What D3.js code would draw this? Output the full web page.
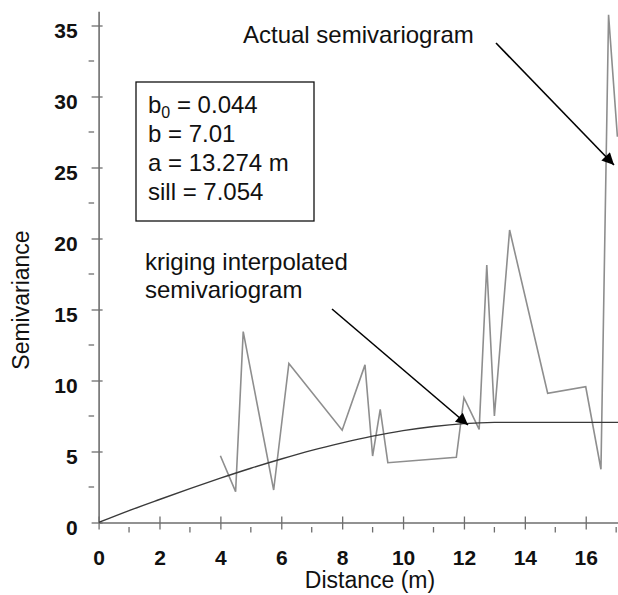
<!DOCTYPE html>
<html>
<head>
<meta charset="utf-8">
<script src="https://cdn.jsdelivr.net/npm/d3@7"></script>
<style>
  html, body { margin: 0; padding: 0; background: #fff; }
  svg { display: block; font-family: Arial, "Liberation Sans", sans-serif; }
</style>
</head>
<body>
<svg id="chart" width="618" height="595"></svg>
<script>
// actual semivariogram (distance m, semivariance)
const actualX = [4.0, 4.5, 4.75, 5.75, 6.25, 8.0, 8.75, 9.0, 9.25, 9.5, 11.75, 12.0, 12.5, 12.75, 13.0, 13.5, 14.75, 16.0, 16.5, 16.75, 17.04];
const actualY = [4.7, 2.17, 13.44, 2.29, 11.2, 6.5, 11.1, 4.68, 7.97, 4.21, 4.59, 8.79, 6.56, 18.13, 7.5, 20.6, 9.1, 9.56, 3.75, 35.75, 27.17];

// kriging interpolated semivariogram
const krigX = [0, 1, 2, 3, 4, 5, 6, 7, 8, 9, 10, 11, 12, 13, 13.274, 17.2];
const krigY = [0, 0.84, 1.62, 2.38, 3.12, 3.82, 4.47, 5.08, 5.61, 6.08, 6.47, 6.76, 6.96, 7.05, 7.054, 7.054];

const xTicks = [0, 2, 4, 6, 8, 10, 12, 14, 16];
const xMinor = [1, 3, 5, 7, 9, 11, 13, 15, 17];
const yTicks = [0, 5, 10, 15, 20, 25, 30, 35];
const yMinor = [2.5, 7.5, 12.5, 17.5, 22.5, 27.5, 32.5];

const params = [
  ["b", "0", " = 0.044"],
  ["b", "", " = 7.01"],
  ["a", "", " = 13.274 m"],
  ["sill", "", " = 7.054"],
];

const svg = d3.select("#chart");
const x = d3.scaleLinear().domain([0, 17.06]).range([98.6, 618]);
const y = d3.scaleLinear().domain([0, 36]).range([522.5, 11.3]);
const axisColor = "#6e6e6e";
const font = "Arial, 'Liberation Sans', sans-serif";

// y axis
const gy = svg.append("g").attr("transform", `translate(${x(0)},0)`)
  .call(d3.axisLeft(y).tickValues(yTicks).tickSize(7).tickSizeOuter(0).tickFormat(d3.format("d")));
gy.select(".domain").attr("stroke", axisColor).attr("stroke-width", 1.6);
gy.selectAll(".tick line").attr("stroke", axisColor).attr("stroke-width", 1.3).attr("x1", -7).attr("x2", 4);
gy.selectAll(".tick text").attr("x", -21).attr("dy", 11.5).attr("fill", "#111")
  .attr("font-size", 21).attr("font-weight", "bold").attr("font-family", font);
svg.append("g").selectAll("line").data(yMinor).join("line")
  .attr("x1", x(0) - 10).attr("x2", x(0) - 4.5).attr("y1", y).attr("y2", y)
  .attr("stroke", axisColor).attr("stroke-width", 1.3);

// x axis
const gx = svg.append("g").attr("transform", `translate(0,${y(0)})`)
  .call(d3.axisBottom(x).tickValues(xTicks).tickSize(6).tickSizeOuter(0).tickFormat(d3.format("d")));
gx.select(".domain").attr("stroke", axisColor).attr("stroke-width", 1.6);
gx.selectAll(".tick line").attr("stroke", axisColor).attr("stroke-width", 1.3).attr("y1", -6).attr("y2", 7);
gx.selectAll(".tick text").attr("y", 42.7).attr("dy", 0).attr("fill", "#111")
  .attr("font-size", 21).attr("font-weight", "bold").attr("font-family", font);
svg.append("g").selectAll("line").data(xMinor).join("line")
  .attr("x1", x).attr("x2", x).attr("y1", y(0) + 4.5).attr("y2", y(0) + 10)
  .attr("stroke", axisColor).attr("stroke-width", 1.3);

// axis titles
svg.append("text").attr("x", 370).attr("y", 588).attr("text-anchor", "middle")
  .attr("font-size", 23).attr("fill", "#111").text("Distance (m)");
svg.append("text").attr("transform", "translate(29,300) rotate(-90)").attr("text-anchor", "middle")
  .attr("font-size", 23).attr("fill", "#111").text("Semivariance");

// series
svg.append("defs").append("clipPath").attr("id", "plot").append("rect")
  .attr("x", 99).attr("y", 0).attr("width", 519).attr("height", 595);
const line = d3.line().x((d) => x(d[0])).y((d) => y(d[1]));
svg.append("path").datum(actualX.map((v, i) => [v, actualY[i]]))
  .attr("clip-path", "url(#plot)").attr("fill", "none").attr("stroke", "#8e8e8e").attr("stroke-width", 1.6)
  .attr("d", line);
svg.append("path").datum(krigX.map((v, i) => [v, krigY[i]]))
  .attr("clip-path", "url(#plot)").attr("fill", "none").attr("stroke", "#3a3a3a").attr("stroke-width", 1.4)
  .attr("d", line.curve(d3.curveMonotoneX));

// parameter box
svg.append("rect").attr("x", 136).attr("y", 82).attr("width", 178).attr("height", 139)
  .attr("fill", "#fff").attr("stroke", "#111").attr("stroke-width", 1.3);
params.forEach(([name, sub, rest], i) => {
  const t = svg.append("text").attr("x", 148).attr("y", 113 + i * 29).attr("font-size", 24).attr("fill", "#111");
  t.append("tspan").text(name);
  if (sub) t.append("tspan").attr("font-size", 16).attr("dy", 5).text(sub);
  t.append("tspan").attr("dy", sub ? -5 : 0).text(rest);
});

// annotations
svg.append("defs").append("marker").attr("id", "head").attr("viewBox", "0 0 10 10")
  .attr("refX", 10).attr("refY", 5).attr("markerWidth", 16).attr("markerHeight", 12)
  .attr("markerUnits", "userSpaceOnUse").attr("orient", "auto")
  .append("path").attr("d", "M0,0L10,5L0,10Z").attr("fill", "#000");

svg.append("text").attr("x", 243).attr("y", 43).attr("font-size", 24).attr("fill", "#111").text("Actual semivariogram");
svg.append("line").attr("x1", 496).attr("y1", 43).attr("x2", 614).attr("y2", 165)
  .attr("stroke", "#000").attr("stroke-width", 1.6).attr("marker-end", "url(#head)");

svg.append("text").attr("x", 145).attr("y", 270).attr("font-size", 24).attr("fill", "#111").text("kriging interpolated");
svg.append("text").attr("x", 145).attr("y", 298).attr("font-size", 24).attr("fill", "#111").text("semivariogram");
svg.append("line").attr("x1", 332).attr("y1", 309).attr("x2", 468).attr("y2", 425)
  .attr("stroke", "#000").attr("stroke-width", 1.6).attr("marker-end", "url(#head)");
</script>
</body>
</html>
